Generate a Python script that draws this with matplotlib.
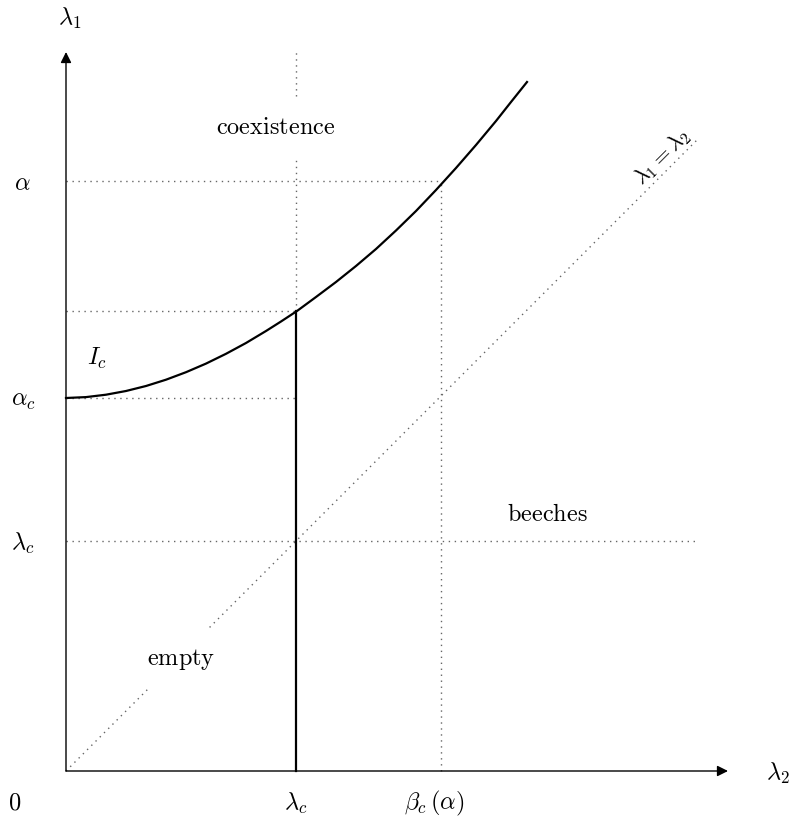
import matplotlib.pyplot as plt

plt.rcParams["mathtext.fontset"] = "cm"

# values (one unit = one pixel, origin at the axes corner)
lam_c = 230
alpha_c = 373
curve_at_lam_c = 460
alpha = 590
beta_c_alpha = 375
x_axis_end = 662
y_axis_end = 719
diag_end = 632

# critical curve I_c
curve_x = [0, 20, 40, 60, 80, 100, 120, 140, 160, 180, 200, 215, 231,
           250, 270, 290, 310, 330, 350, 370, 390, 410, 430, 445, 461]
curve_y = [373, 373.9, 376.3, 380, 385, 391.3, 398.8, 407.4, 417.2, 428, 440,
           449.5, 460, 474, 489, 505, 522, 540.5, 560, 581, 603, 626,
           650, 669, 689]

fig = plt.figure(figsize=(8.01, 8.25), dpi=100)
ax = fig.add_axes([0, 0, 1, 1])
ax.set_xlim(-66, 735)
ax.set_ylim(-54, 771)
ax.axis("off")

dot = dict(color="0.4", lw=1.0, linestyle=(0, (1, 3.3)))

# dotted guides
ax.plot([0, beta_c_alpha], [alpha, alpha], **dot)
ax.plot([0, lam_c], [curve_at_lam_c, curve_at_lam_c], **dot)
ax.plot([0, lam_c], [alpha_c, alpha_c], **dot)
ax.plot([0, diag_end], [lam_c, lam_c], **dot)
ax.plot([lam_c, lam_c], [curve_at_lam_c, y_axis_end], **dot)
ax.plot([beta_c_alpha, beta_c_alpha], [0, alpha], **dot)
ax.plot([0, diag_end], [0, diag_end], **dot)

# axes with arrows
arrow = dict(arrowstyle="-|>", lw=1.0, color="black", mutation_scale=16,
             shrinkA=0, shrinkB=0)
ax.annotate("", xy=(x_axis_end, 0), xytext=(0, 0), arrowprops=arrow)
ax.annotate("", xy=(0, y_axis_end), xytext=(0, 0), arrowprops=arrow)

# curve and solid vertical
ax.plot(curve_x, curve_y, color="black", lw=1.6, solid_joinstyle="round",
        zorder=4)
ax.plot([lam_c, lam_c], [0, curve_at_lam_c], color="black", lw=1.6, zorder=4)

fs = 17.5
ax.text(4, 753, r"$\lambda_1$", fontsize=fs, ha="center", va="center")
ax.text(712, -2, r"$\lambda_2$", fontsize=fs, ha="center", va="center")
ax.text(-51, -32, r"$0$", fontsize=fs, ha="center", va="center")
ax.text(lam_c, -32, r"$\lambda_c$", fontsize=fs, ha="center", va="center")
ax.text(368, -32, r"$\beta_c\,(\alpha)$", fontsize=fs, ha="center", va="center")
ax.text(-44, alpha - 2, r"$\alpha$", fontsize=fs, ha="center", va="center")
ax.text(-43, alpha_c - 2, r"$\alpha_c$", fontsize=fs, ha="center", va="center")
ax.text(-43, lam_c - 2, r"$\lambda_c$", fontsize=fs, ha="center", va="center")
ax.text(31, 413, r"$I_c$", fontsize=fs, ha="center", va="center")

box = dict(facecolor="white", edgecolor="none", pad=13)
ax.text(210, 644, r"$\mathrm{coexistence}$", fontsize=fs, ha="center",
        va="center", bbox=box, zorder=3)
ax.text(115, 112, r"$\mathrm{empty}$", fontsize=fs, ha="center",
        va="center", bbox=box, zorder=3)
ax.text(481, 257, r"$\mathrm{beeches}$", fontsize=fs, ha="center", va="center")
ax.text(596, 614, r"$\lambda_1=\lambda_2$", fontsize=fs - 1.5, ha="center",
        va="center", rotation=45, rotation_mode="anchor")

fig.savefig("out.png", dpi=100)
